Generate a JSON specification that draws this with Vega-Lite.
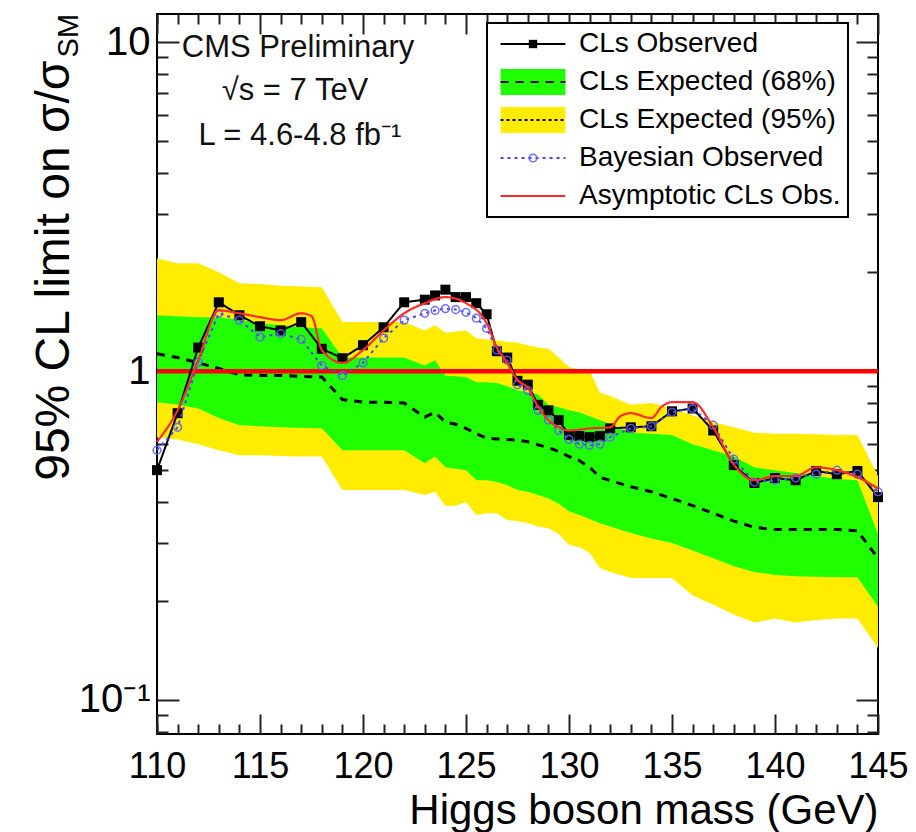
{
  "$schema": "https://vega.github.io/schema/vega-lite/v6.json",
  "width": 721,
  "height": 720,
  "autosize": {"type": "none"},
  "padding": {"left": 157, "top": 14, "right": 38, "bottom": 98},
  "background": "white",
  "config": {
    "view": {"stroke": "black", "strokeWidth": 2},
    "font": "Liberation Sans",
    "legend": {"strokeWidth": 2},
    "axis": {"grid": false, "domain": false, "tickColor": "#222222", "tickWidth": 2, "labelColor": "black", "titleColor": "black", "labelFont": "Liberation Sans", "titleFont": "Liberation Sans", "titleFontWeight": "normal"}
  },
  "datasets": {
    "bands": [
      {"mass": 110, "lo95": 0.63, "lo68": 0.805, "med": 1.13, "hi68": 1.48, "hi95": 2.2},
      {"mass": 111, "lo95": 0.62, "lo68": 0.79, "med": 1.1, "hi68": 1.47, "hi95": 2.13},
      {"mass": 112, "lo95": 0.6, "lo68": 0.77, "med": 1.06, "hi68": 1.46, "hi95": 2.13},
      {"mass": 113, "lo95": 0.575, "lo68": 0.72, "med": 1.02, "hi68": 1.46, "hi95": 2.0},
      {"mass": 114, "lo95": 0.555, "lo68": 0.685, "med": 0.975, "hi68": 1.43, "hi95": 1.85},
      {"mass": 115, "lo95": 0.555, "lo68": 0.68, "med": 0.97, "hi68": 1.4, "hi95": 1.84},
      {"mass": 116, "lo95": 0.552, "lo68": 0.675, "med": 0.97, "hi68": 1.38, "hi95": 1.82},
      {"mass": 117, "lo95": 0.55, "lo68": 0.672, "med": 0.965, "hi68": 1.36, "hi95": 1.81},
      {"mass": 118, "lo95": 0.55, "lo68": 0.67, "med": 0.96, "hi68": 1.35, "hi95": 1.8},
      {"mass": 119, "lo95": 0.435, "lo68": 0.575, "med": 0.82, "hi68": 1.1, "hi95": 1.41},
      {"mass": 120, "lo95": 0.435, "lo68": 0.575, "med": 0.805, "hi68": 1.1, "hi95": 1.41},
      {"mass": 121, "lo95": 0.435, "lo68": 0.575, "med": 0.805, "hi68": 1.1, "hi95": 1.41},
      {"mass": 122, "lo95": 0.435, "lo68": 0.575, "med": 0.8, "hi68": 1.1, "hi95": 1.41},
      {"mass": 123, "lo95": 0.42, "lo68": 0.525, "med": 0.725, "hi68": 1.04, "hi95": 1.33},
      {"mass": 123.5, "lo95": 0.43, "lo68": 0.55, "med": 0.75, "hi68": 1.08, "hi95": 1.38},
      {"mass": 124, "lo95": 0.39, "lo68": 0.51, "med": 0.7, "hi68": 0.97, "hi95": 1.31},
      {"mass": 124.5, "lo95": 0.39, "lo68": 0.505, "med": 0.69, "hi68": 0.965, "hi95": 1.32},
      {"mass": 125, "lo95": 0.4, "lo68": 0.5, "med": 0.67, "hi68": 0.96, "hi95": 1.33},
      {"mass": 125.5, "lo95": 0.365, "lo68": 0.466, "med": 0.645, "hi68": 0.926, "hi95": 1.26},
      {"mass": 126, "lo95": 0.37, "lo68": 0.466, "med": 0.626, "hi68": 0.926, "hi95": 1.25},
      {"mass": 126.5, "lo95": 0.37, "lo68": 0.46, "med": 0.622, "hi68": 0.92, "hi95": 1.24},
      {"mass": 127, "lo95": 0.353, "lo68": 0.45, "med": 0.62, "hi68": 0.9, "hi95": 1.23},
      {"mass": 127.5, "lo95": 0.35, "lo68": 0.435, "med": 0.617, "hi68": 0.875, "hi95": 1.22},
      {"mass": 128, "lo95": 0.345, "lo68": 0.43, "med": 0.61, "hi68": 0.865, "hi95": 1.2},
      {"mass": 128.5, "lo95": 0.337, "lo68": 0.42, "med": 0.597, "hi68": 0.85, "hi95": 1.18},
      {"mass": 129, "lo95": 0.333, "lo68": 0.41, "med": 0.585, "hi68": 0.79, "hi95": 1.17},
      {"mass": 129.5, "lo95": 0.32, "lo68": 0.395, "med": 0.57, "hi68": 0.777, "hi95": 1.1},
      {"mass": 130, "lo95": 0.296, "lo68": 0.375, "med": 0.55, "hi68": 0.76, "hi95": 1.03},
      {"mass": 130.5, "lo95": 0.292, "lo68": 0.365, "med": 0.535, "hi68": 0.75, "hi95": 1.01},
      {"mass": 131, "lo95": 0.28, "lo68": 0.355, "med": 0.51, "hi68": 0.73, "hi95": 1.005},
      {"mass": 131.5, "lo95": 0.252, "lo68": 0.345, "med": 0.476, "hi68": 0.71, "hi95": 0.86},
      {"mass": 132, "lo95": 0.245, "lo68": 0.337, "med": 0.465, "hi68": 0.69, "hi95": 0.84},
      {"mass": 133, "lo95": 0.235, "lo68": 0.322, "med": 0.445, "hi68": 0.65, "hi95": 0.79},
      {"mass": 134, "lo95": 0.235, "lo68": 0.31, "med": 0.43, "hi68": 0.645, "hi95": 0.8},
      {"mass": 135, "lo95": 0.235, "lo68": 0.3, "med": 0.41, "hi68": 0.64, "hi95": 0.77},
      {"mass": 136, "lo95": 0.208, "lo68": 0.285, "med": 0.39, "hi68": 0.6, "hi95": 0.735},
      {"mass": 137, "lo95": 0.195, "lo68": 0.27, "med": 0.37, "hi68": 0.575, "hi95": 0.7},
      {"mass": 138, "lo95": 0.182, "lo68": 0.255, "med": 0.35, "hi68": 0.55, "hi95": 0.675},
      {"mass": 139, "lo95": 0.172, "lo68": 0.245, "med": 0.335, "hi68": 0.51, "hi95": 0.65},
      {"mass": 140, "lo95": 0.177, "lo68": 0.24, "med": 0.33, "hi68": 0.5, "hi95": 0.645},
      {"mass": 141, "lo95": 0.172, "lo68": 0.238, "med": 0.33, "hi68": 0.49, "hi95": 0.645},
      {"mass": 142, "lo95": 0.175, "lo68": 0.237, "med": 0.33, "hi68": 0.48, "hi95": 0.643},
      {"mass": 143, "lo95": 0.177, "lo68": 0.236, "med": 0.33, "hi68": 0.47, "hi95": 0.64},
      {"mass": 144, "lo95": 0.177, "lo68": 0.236, "med": 0.327, "hi68": 0.466, "hi95": 0.64},
      {"mass": 145, "lo95": 0.144, "lo68": 0.192, "med": 0.27, "hi68": 0.32, "hi95": 0.48}
    ],
    "observed": [
      {"mass": 110, "obs": 0.5}, {"mass": 111, "obs": 0.745}, {"mass": 112, "obs": 1.18}, {"mass": 113, "obs": 1.62},
      {"mass": 114, "obs": 1.48}, {"mass": 115, "obs": 1.37}, {"mass": 116, "obs": 1.33}, {"mass": 117, "obs": 1.41},
      {"mass": 118, "obs": 1.17}, {"mass": 119, "obs": 1.095}, {"mass": 120, "obs": 1.2}, {"mass": 121, "obs": 1.36},
      {"mass": 122, "obs": 1.62}, {"mass": 123, "obs": 1.65}, {"mass": 123.5, "obs": 1.7}, {"mass": 124, "obs": 1.77},
      {"mass": 124.5, "obs": 1.68}, {"mass": 125, "obs": 1.68}, {"mass": 125.5, "obs": 1.61}, {"mass": 126, "obs": 1.49},
      {"mass": 126.5, "obs": 1.15}, {"mass": 127, "obs": 1.1}, {"mass": 127.5, "obs": 0.935}, {"mass": 128, "obs": 0.91},
      {"mass": 128.5, "obs": 0.79}, {"mass": 129, "obs": 0.76}, {"mass": 129.5, "obs": 0.71}, {"mass": 130, "obs": 0.64},
      {"mass": 130.5, "obs": 0.635}, {"mass": 131, "obs": 0.63}, {"mass": 131.5, "obs": 0.635}, {"mass": 132, "obs": 0.67},
      {"mass": 133, "obs": 0.675}, {"mass": 134, "obs": 0.68}, {"mass": 135, "obs": 0.755}, {"mass": 136, "obs": 0.77},
      {"mass": 137, "obs": 0.66}, {"mass": 138, "obs": 0.518}, {"mass": 139, "obs": 0.457}, {"mass": 140, "obs": 0.473},
      {"mass": 141, "obs": 0.466}, {"mass": 142, "obs": 0.497}, {"mass": 143, "obs": 0.486}, {"mass": 144, "obs": 0.497},
      {"mass": 145, "obs": 0.414}
    ],
    "bayes": [
      {"mass": 110, "bay": 0.575}, {"mass": 111, "bay": 0.675}, {"mass": 112, "bay": 1.065}, {"mass": 113, "bay": 1.5},
      {"mass": 114, "bay": 1.43}, {"mass": 115, "bay": 1.27}, {"mass": 116, "bay": 1.3}, {"mass": 117, "bay": 1.25},
      {"mass": 118, "bay": 1.04}, {"mass": 119, "bay": 0.97}, {"mass": 120, "bay": 1.06}, {"mass": 121, "bay": 1.26},
      {"mass": 122, "bay": 1.43}, {"mass": 123, "bay": 1.5}, {"mass": 123.5, "bay": 1.53}, {"mass": 124, "bay": 1.55},
      {"mass": 124.5, "bay": 1.54}, {"mass": 125, "bay": 1.51}, {"mass": 125.5, "bay": 1.45}, {"mass": 126, "bay": 1.35},
      {"mass": 126.5, "bay": 1.16}, {"mass": 127, "bay": 1.08}, {"mass": 127.5, "bay": 0.91}, {"mass": 128, "bay": 0.875},
      {"mass": 128.5, "bay": 0.76}, {"mass": 129, "bay": 0.71}, {"mass": 129.5, "bay": 0.66}, {"mass": 130, "bay": 0.62},
      {"mass": 130.5, "bay": 0.6}, {"mass": 131, "bay": 0.595}, {"mass": 131.5, "bay": 0.6}, {"mass": 132, "bay": 0.63},
      {"mass": 133, "bay": 0.67}, {"mass": 134, "bay": 0.68}, {"mass": 135, "bay": 0.75}, {"mass": 136, "bay": 0.77},
      {"mass": 137, "bay": 0.685}, {"mass": 138, "bay": 0.54}, {"mass": 139, "bay": 0.46}, {"mass": 140, "bay": 0.466},
      {"mass": 141, "bay": 0.473}, {"mass": 142, "bay": 0.486}, {"mass": 143, "bay": 0.5}, {"mass": 144, "bay": 0.486},
      {"mass": 145, "bay": 0.43}
    ],
    "asym": [
      {"mass": 110, "asy": 0.61}, {"mass": 111, "asy": 0.76}, {"mass": 112, "asy": 1.08}, {"mass": 113, "asy": 1.53},
      {"mass": 114, "asy": 1.5}, {"mass": 115, "asy": 1.46}, {"mass": 116, "asy": 1.43}, {"mass": 117, "asy": 1.5},
      {"mass": 117.5, "asy": 1.47}, {"mass": 118, "asy": 1.16}, {"mass": 119, "asy": 1.06}, {"mass": 120, "asy": 1.16},
      {"mass": 121, "asy": 1.33}, {"mass": 122, "asy": 1.5}, {"mass": 123, "asy": 1.61}, {"mass": 124, "asy": 1.68},
      {"mass": 125, "asy": 1.61}, {"mass": 126, "asy": 1.4}, {"mass": 126.5, "asy": 1.18}, {"mass": 127, "asy": 1.06},
      {"mass": 127.5, "asy": 0.94}, {"mass": 128, "asy": 0.89}, {"mass": 128.5, "asy": 0.78}, {"mass": 129, "asy": 0.71},
      {"mass": 129.5, "asy": 0.675}, {"mass": 130, "asy": 0.66}, {"mass": 131, "asy": 0.67}, {"mass": 132, "asy": 0.675},
      {"mass": 132.5, "asy": 0.73}, {"mass": 133, "asy": 0.745}, {"mass": 134, "asy": 0.72}, {"mass": 134.5, "asy": 0.78},
      {"mass": 135, "asy": 0.805}, {"mass": 136, "asy": 0.805}, {"mass": 137, "asy": 0.675}, {"mass": 138, "asy": 0.52},
      {"mass": 139, "asy": 0.466}, {"mass": 140, "asy": 0.48}, {"mass": 141, "asy": 0.48}, {"mass": 142, "asy": 0.51},
      {"mass": 143, "asy": 0.5}, {"mass": 144, "asy": 0.476}, {"mass": 145, "asy": 0.44}
    ]
  },
  "layer": [
    {
      "data": {"name": "bands"},
      "mark": {"type": "area", "opacity": 1},
      "encoding": {
        "x": {"field": "mass", "type": "quantitative",
              "scale": {"domain": [110, 145], "nice": false, "zero": false},
              "axis": {"orient": "bottom", "values": [110, 115, 120, 125, 130, 135, 140, 145], "tickSize": -20, "labelFontSize": 36, "labelPadding": 35, "labelFlush": false,
                       "title": "Higgs boson mass (GeV)", "titleFontSize": 42, "titleAnchor": "end", "titleAlign": "right", "titleBaseline": "alphabetic", "titleY": 89}},
        "y": {"field": "lo95", "type": "quantitative",
              "scale": {"type": "log", "domain": [0.0788, 12.2], "nice": false},
              "axis": {"orient": "left", "values": [0.1, 1, 10], "tickSize": -22, "labelFontSize": 40, "labelPadding": 29,
                       "labelExpr": "datum.value < 0.5 ? '10⁻¹' : (datum.value < 5 ? '1' : '10')",
                       "title": "95% CL limit on σ/σ", "titleFontSize": 48, "titleAngle": 270, "titleAlign": "right", "titleBaseline": "alphabetic", "titleX": -89, "titleY": 46}},
        "y2": {"field": "hi95"},
        "fill": {"datum": "CLs Expected (95%)", "type": "nominal",
                 "scale": {"domain": ["CLs Observed", "CLs Expected (68%)", "CLs Expected (95%)", "Bayesian Observed", "Asymptotic CLs Obs."],
                           "range": ["transparent", "#1fff00", "#ffec00", "transparent", "transparent"]},
                 "legend": {"orient": "none", "legendX": 330, "legendY": 9, "title": null, "direction": "vertical",
                            "fillColor": "white", "strokeColor": "black", "padding": 7,
                            "symbolType": "M-2.95,-1.18H2.95V1.18H-2.95Z", "symbolSize": 484, "symbolStrokeWidth": 0,
                            "symbolOffset": 25, "labelOffset": 32, "labelFontSize": 28, "labelFont": "Liberation Sans", "labelColor": "black",
                            "rowPadding": 10, "labelLimit": 500, "labelExpr": "datum.label + '\u00a0'"}}
      }
    },
    {
      "data": {"name": "bands"},
      "mark": {"type": "area", "opacity": 1},
      "encoding": {
        "x": {"field": "mass", "type": "quantitative", "scale": {"domain": [110, 145], "nice": false, "zero": false},
              "axis": {"orient": "bottom", "values": [110,111,112,113,114,116,117,118,119,121,122,123,124,126,127,128,129,131,132,133,134,136,137,138,139,141,142,143,144], "tickSize": -10, "labels": false, "title": null}},
        "y": {"field": "lo68", "type": "quantitative", "scale": {"type": "log", "domain": [0.0788, 12.2], "nice": false},
              "axis": {"orient": "left", "values": [0.08, 0.09, 0.2, 0.3, 0.4, 0.5, 0.6, 0.7, 0.8, 0.9, 2, 3, 4, 5, 6, 7, 8, 9], "tickSize": -11, "labels": false, "title": null}},
        "y2": {"field": "hi68"},
        "fill": {"datum": "CLs Expected (68%)", "type": "nominal",
                 "scale": {"domain": ["CLs Observed", "CLs Expected (68%)", "CLs Expected (95%)", "Bayesian Observed", "Asymptotic CLs Obs."],
                           "range": ["transparent", "#1fff00", "#ffec00", "transparent", "transparent"]}}
      }
    },
    {
      "data": {"name": "bands"},
      "mark": {"type": "line", "strokeWidth": 3},
      "encoding": {
        "x": {"field": "mass", "type": "quantitative", "scale": {"domain": [110, 145], "nice": false, "zero": false},
              "axis": {"orient": "top", "values": [110, 115, 120, 125, 130, 135, 140, 145], "tickSize": -20, "labels": false, "title": null}},
        "y": {"field": "med", "type": "quantitative", "scale": {"type": "log", "domain": [0.0788, 12.2], "nice": false},
              "axis": {"orient": "right", "values": [0.1, 1, 10], "tickSize": -22, "labels": false, "title": null}},
        "stroke": {"datum": "k2", "type": "nominal",
                   "scale": {"domain": ["k1", "k2", "k3", "k4", "k5"], "range": ["black", "black", "black", "#4646ff", "#ff2a2a"]},
                   "legend": {"orient": "none", "legendX": 330, "legendY": 9, "title": null, "direction": "vertical", "padding": 7,
                              "symbolSize": 484, "symbolOffset": 25, "labelOffset": 32, "labelFontSize": 28, "labelFont": "Liberation Sans",
                              "labelExpr": "''", "rowPadding": 10, "symbolStrokeWidth": 2, "symbolType": "M-2.95,0H2.95"}},
        "strokeDash": {"datum": "k2", "type": "nominal",
                       "scale": {"domain": ["k1", "k2", "k3", "k4", "k5"], "range": [[1, 0], [8, 7], [3, 3], [3, 4], [1, 0]]}}
      }
    },
    {
      "data": {"values": [{}]},
      "mark": {"type": "rule", "color": "#ff0000", "strokeWidth": 4.5},
      "encoding": {
        "y": {"datum": 1, "type": "quantitative", "scale": {"type": "log", "domain": [0.0788, 12.2], "nice": false}, "axis": null}
      }
    },
    {
      "data": {"name": "observed"},
      "mark": {"type": "line", "strokeWidth": 2},
      "encoding": {
        "x": {"field": "mass", "type": "quantitative", "scale": {"domain": [110, 145], "nice": false, "zero": false},
              "axis": {"orient": "top", "values": [110,111,112,113,114,116,117,118,119,121,122,123,124,126,127,128,129,131,132,133,134,136,137,138,139,141,142,143,144], "tickSize": -10, "labels": false, "title": null}},
        "y": {"field": "obs", "type": "quantitative", "scale": {"type": "log", "domain": [0.0788, 12.2], "nice": false},
              "axis": {"orient": "right", "values": [0.08, 0.09, 0.2, 0.3, 0.4, 0.5, 0.6, 0.7, 0.8, 0.9, 2, 3, 4, 5, 6, 7, 8, 9], "tickSize": -11, "labels": false, "title": null}},
        "stroke": {"datum": "k1", "type": "nominal", "scale": {"domain": ["k1", "k2", "k3", "k4", "k5"], "range": ["black", "black", "black", "#4646ff", "#ff2a2a"]}},
        "strokeDash": {"datum": "k1", "type": "nominal",
                       "scale": {"domain": ["k1", "k2", "k3", "k4", "k5"], "range": [[1, 0], [8, 7], [3, 3], [3, 4], [1, 0]]}}
      }
    },
    {
      "data": {"name": "observed"},
      "mark": {"type": "point", "filled": true, "color": "black", "size": 100, "opacity": 1},
      "encoding": {
        "x": {"field": "mass", "type": "quantitative", "scale": {"domain": [110, 145], "nice": false, "zero": false}, "axis": null},
        "y": {"field": "obs", "type": "quantitative", "scale": {"type": "log", "domain": [0.0788, 12.2], "nice": false}, "axis": null},
        "shape": {"datum": "mObs", "type": "nominal", "scale": {"domain": ["mObs"], "range": ["square"]},
                  "legend": {"orient": "none", "legendX": 330, "legendY": 9, "title": null, "padding": 7, "symbolSize": 70,
                             "symbolOffset": 25, "labelOffset": 32, "labelFontSize": 28, "labelExpr": "''", "rowPadding": 10}}
      }
    },
    {
      "data": {"name": "bayes"},
      "mark": {"type": "line", "strokeWidth": 2},
      "encoding": {
        "x": {"field": "mass", "type": "quantitative", "scale": {"domain": [110, 145], "nice": false, "zero": false}, "axis": null},
        "y": {"field": "bay", "type": "quantitative", "scale": {"type": "log", "domain": [0.0788, 12.2], "nice": false}, "axis": null},
        "stroke": {"datum": "k4", "type": "nominal", "scale": {"domain": ["k1", "k2", "k3", "k4", "k5"], "range": ["black", "black", "black", "#4646ff", "#ff2a2a"]}},
        "strokeDash": {"datum": "k4", "type": "nominal",
                       "scale": {"domain": ["k1", "k2", "k3", "k4", "k5"], "range": [[1, 0], [8, 7], [3, 3], [3, 4], [1, 0]]}}
      }
    },
    {
      "data": {"name": "bayes"},
      "mark": {"type": "point", "filled": false, "color": "#6060ff", "size": 60, "strokeWidth": 1.5, "opacity": 0.9},
      "encoding": {
        "x": {"field": "mass", "type": "quantitative", "scale": {"domain": [110, 145], "nice": false, "zero": false}, "axis": null},
        "y": {"field": "bay", "type": "quantitative", "scale": {"type": "log", "domain": [0.0788, 12.2], "nice": false}, "axis": null},
        "shape": {"datum": "mBay", "type": "nominal", "scale": {"domain": ["mBay"], "range": ["circle"]},
                  "legend": {"orient": "none", "legendX": 330, "legendY": 123, "title": null, "padding": 7, "symbolSize": 60,
                             "symbolOffset": 25, "labelOffset": 32, "labelFontSize": 28, "labelExpr": "''", "rowPadding": 10}}
      }
    },
    {
      "data": {"name": "asym"},
      "mark": {"type": "line", "strokeWidth": 2.2, "interpolate": "monotone"},
      "encoding": {
        "x": {"field": "mass", "type": "quantitative", "scale": {"domain": [110, 145], "nice": false, "zero": false}, "axis": null},
        "y": {"field": "asy", "type": "quantitative", "scale": {"type": "log", "domain": [0.0788, 12.2], "nice": false}, "axis": null},
        "stroke": {"datum": "k5", "type": "nominal", "scale": {"domain": ["k1", "k2", "k3", "k4", "k5"], "range": ["black", "black", "black", "#4646ff", "#ff2a2a"]}},
        "strokeDash": {"datum": "k5", "type": "nominal",
                       "scale": {"domain": ["k1", "k2", "k3", "k4", "k5"], "range": [[1, 0], [8, 7], [3, 3], [3, 4], [1, 0]]}}
      }
    },
    {
      "data": {"values": [{}]},
      "mark": {"type": "text", "text": "CMS Preliminary", "fontSize": 31, "font": "Liberation Sans", "align": "center", "baseline": "alphabetic", "color": "#111111"},
      "encoding": {
        "x": {"datum": 116.85, "type": "quantitative", "scale": {"domain": [110, 145], "nice": false, "zero": false}, "axis": null},
        "y": {"datum": 9.0, "type": "quantitative", "scale": {"type": "log", "domain": [0.0788, 12.2], "nice": false}, "axis": null}
      }
    },
    {
      "data": {"values": [{}]},
      "mark": {"type": "text", "text": "√s = 7 TeV", "fontSize": 31, "font": "Liberation Sans", "align": "center", "baseline": "alphabetic", "color": "#111111"},
      "encoding": {
        "x": {"datum": 116.7, "type": "quantitative", "scale": {"domain": [110, 145], "nice": false, "zero": false}, "axis": null},
        "y": {"datum": 6.66, "type": "quantitative", "scale": {"type": "log", "domain": [0.0788, 12.2], "nice": false}, "axis": null}
      }
    },
    {
      "data": {"values": [{}]},
      "mark": {"type": "text", "text": "L = 4.6-4.8 fb⁻¹", "fontSize": 31, "font": "Liberation Sans", "align": "center", "baseline": "alphabetic", "color": "#111111"},
      "encoding": {
        "x": {"datum": 116.94, "type": "quantitative", "scale": {"domain": [110, 145], "nice": false, "zero": false}, "axis": null},
        "y": {"datum": 4.86, "type": "quantitative", "scale": {"type": "log", "domain": [0.0788, 12.2], "nice": false}, "axis": null}
      }
    },
    {
      "data": {"values": [{}]},
      "mark": {"type": "text", "text": "SM", "fontSize": 29, "font": "Liberation Sans", "align": "left", "baseline": "alphabetic", "angle": 270, "color": "black"},
      "encoding": {
        "x": {"datum": 106.17, "type": "quantitative", "scale": {"domain": [110, 145], "nice": false, "zero": false}, "axis": null},
        "y": {"datum": 9.0, "type": "quantitative", "scale": {"type": "log", "domain": [0.0788, 12.2], "nice": false}, "axis": null}
      }
    }
  ],
  "resolve": {"scale": {"shape": "independent"}, "axis": {"x": "independent", "y": "independent"}}
}
